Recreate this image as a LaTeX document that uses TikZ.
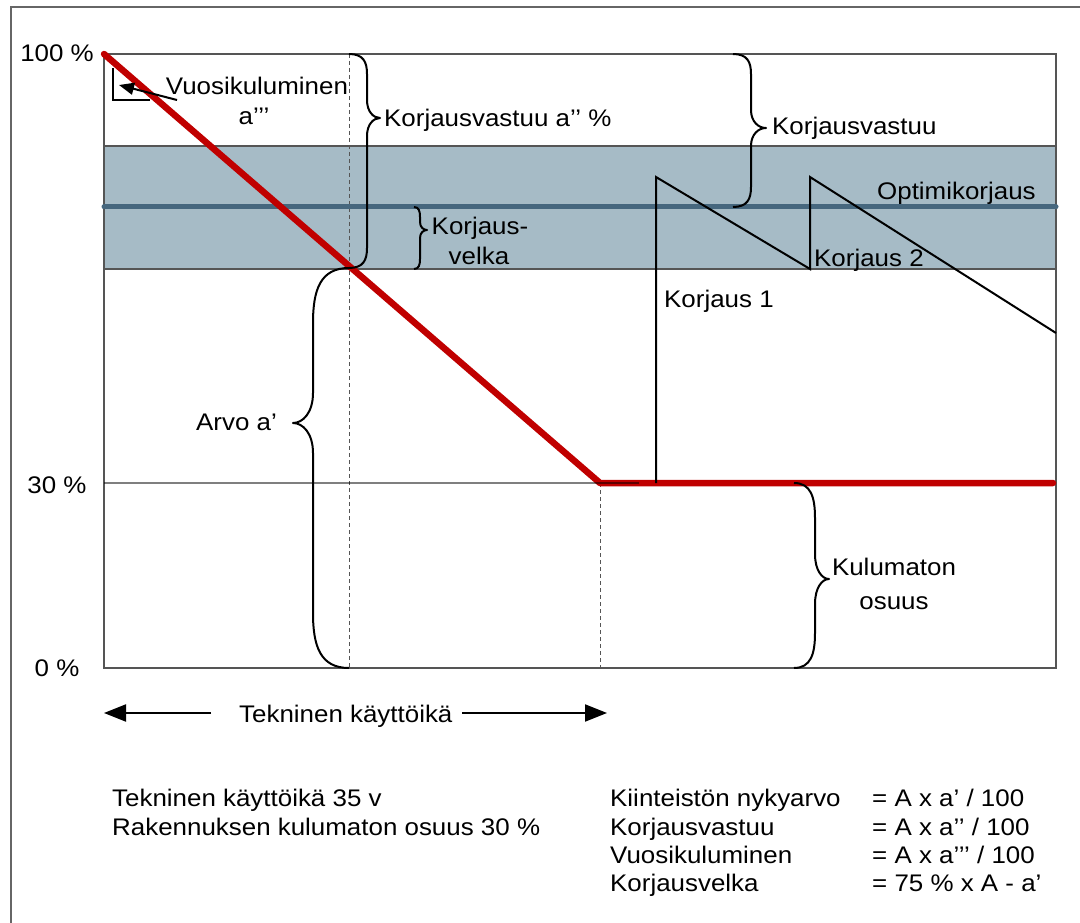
\documentclass[tikz,border=0pt]{standalone}
\usepackage{fontspec}
\setmainfont{Liberation Sans}[FakeStretch=1.08]
\usetikzlibrary{arrows.meta}

\definecolor{bandfill}{HTML}{A6BBC6}
\definecolor{optline}{HTML}{46677E}
\definecolor{wearred}{HTML}{C00000}
\definecolor{framegray}{HTML}{666666}
\definecolor{gridgray}{HTML}{555555}

% curly brace: x, y-top, y-bottom, y-tip, side (1 right / -1 left),
% bulge, tip length, end-curve height, tip-curve height
\newcommand\drawcurly[9]{%
  \draw[curly] (#1,#2)
    .. controls ({#1+(#5)*0.8*(#6)},{#2}) and ({#1+(#5)*(#6)},{#2+0.4*(#8)}) .. ({#1+(#5)*(#6)},{#2+(#8)})
    -- ({#1+(#5)*(#6)},{#4-(#9)})
    .. controls ({#1+(#5)*(#6)},{#4-0.35*(#9)}) and ({#1+(#5)*((#6)+0.5*(#7))},{#4}) .. ({#1+(#5)*((#6)+(#7))},{#4})
    .. controls ({#1+(#5)*((#6)+0.5*(#7))},{#4}) and ({#1+(#5)*(#6)},{#4+0.35*(#9)}) .. ({#1+(#5)*(#6)},{#4+(#9)})
    -- ({#1+(#5)*(#6)},{#3-(#8)})
    .. controls ({#1+(#5)*(#6)},{#3-0.4*(#8)}) and ({#1+(#5)*0.8*(#6)},{#3}) .. (#1,#3);}

\begin{document}
\begin{tikzpicture}[x=1pt,y=-1pt,
  txt/.style={inner sep=0pt, font=\fontsize{24}{29}\selectfont},
  curly/.style={draw=black, line width=2pt, line join=round},
  plotframe/.style={draw=gridgray, line width=1.3pt},
  guide/.style={draw=gridgray, line width=1pt, dash pattern=on 4pt off 3pt},
  saw/.style={draw=black, line width=2pt, line join=miter},
  arr/.style={draw=black, line width=2pt, -{Triangle[length=22pt,width=17pt]}},
  smallarr/.style={draw=black, line width=2pt, -{Triangle[length=15pt,width=12pt]}}]

\useasboundingbox (0,0) rectangle (1080,923);
\fill[white] (0,0) rectangle (1080,923);

% outer frame (only left and top edges inside the page)
\draw[framegray, line width=1.8pt] (1080,7) -- (11,7) -- (11,923);

% optimal repair band
\fill[bandfill] (104,146) rectangle (1056,269);
\draw[plotframe] (104,146) -- (1056,146);
\draw[plotframe] (104,269) -- (1056,269);

% plot area
\draw[plotframe] (104,54) rectangle (1056,668);

% guide lines
\draw[guide] (349,54) -- (349,668);
\draw[guide] (600,483) -- (600,668);

% optimal repair level
\draw[optline, line width=5pt, line cap=round] (104,207) -- (1056,207);

% value curve
\draw[wearred, line width=6.5pt, line cap=round, line join=round]
  (104,54) -- (600,483) -- (1053,483);

% 30 % level
\draw[black, opacity=0.5, line width=1.5pt] (104,483) -- (639,483);

% repairs
\draw[saw] (656,483) -- (656,177) -- (810,269) -- (810,177) -- (1056,333);

% annual wear marker
\draw[black, line width=2pt] (113,68) -- (113,100) -- (150,100);
\coordinate (wearTail) at (177,100);
\coordinate (wearTip) at (119,85);
\draw[smallarr] (wearTail) -- (wearTip);

% braces
\drawcurly{349}{54}{268}{118}{1}{18}{13}{20}{18}
\drawcurly{733}{54}{207}{128}{1}{18}{15}{20}{18}
\drawcurly{414}{207}{269}{230}{1}{6}{7}{10}{8}
\drawcurly{349}{268}{668}{423}{-1}{36}{20}{55}{30}
\drawcurly{794}{483}{668}{579}{1}{21}{14}{35}{25}

% axis labels
\node[txt, anchor=base] (p100) at (57,62) {100 \%};
\node[txt, anchor=base] (p30) at (57,493) {30 \%};
\node[txt, anchor=base] (p0) at (57,676) {0 \%};

% annotations
\node[txt, anchor=base] (vuosiA) at (257,95) {Vuosikuluminen};
\node[txt, anchor=base] (vuosiB) at (254,125) {a’’’};
\node[txt, anchor=base west] (kvastA) at (384,127) {Korjausvastuu a’’ \%};
\node[txt, anchor=base west] (kvastB) at (772,135) {Korjausvastuu};
\node[txt, anchor=base west] (optimi) at (877,200) {Optimikorjaus};
\node[txt, anchor=base] (velkaA) at (480,235) {Korjaus-};
\node[txt, anchor=base] (velkaB) at (479,265) {velka};
\node[txt, anchor=base west] (korj2) at (814,266) {Korjaus 2};
\node[txt, anchor=base west] (korj1) at (664,307) {Korjaus 1};
\node[txt, anchor=base east] (arvo) at (277,430) {Arvo a’};
\node[txt, anchor=base] (kulA) at (894,575) {Kulumaton};
\node[txt, anchor=base] (kulB) at (894,609) {osuus};

% technical service life
\node[txt, anchor=base west] (tekn) at (239,722) {Tekninen käyttöikä};
\coordinate (lifeLtail) at (211,713);
\coordinate (lifeLtip) at (104,713);
\coordinate (lifeRtail) at (462,713);
\coordinate (lifeRtip) at (607,713);
\draw[arr] (lifeLtail) -- (lifeLtip);
\draw[arr] (lifeRtail) -- (lifeRtip);

% notes
\node[txt, anchor=base west] (noteA) at (112,806) {Tekninen käyttöikä 35 v};
\node[txt, anchor=base west] (noteB) at (112,835) {Rakennuksen kulumaton osuus 30 \%};

\node[txt, anchor=base west] (fA) at (610,806) {Kiinteistön nykyarvo};
\node[txt, anchor=base west] (fB) at (610,835) {Korjausvastuu};
\node[txt, anchor=base west] (fC) at (610,863) {Vuosikuluminen};
\node[txt, anchor=base west] (fD) at (610,891) {Korjausvelka};
\node[txt, anchor=base west] (eA) at (872,806) {= A x a’ / 100};
\node[txt, anchor=base west] (eB) at (872,835) {= A x a’’ / 100};
\node[txt, anchor=base west] (eC) at (872,863) {= A x a’’’ / 100};
\node[txt, anchor=base west] (eD) at (872,891) {= 75 \% x A - a’};
\end{tikzpicture}
\end{document}
